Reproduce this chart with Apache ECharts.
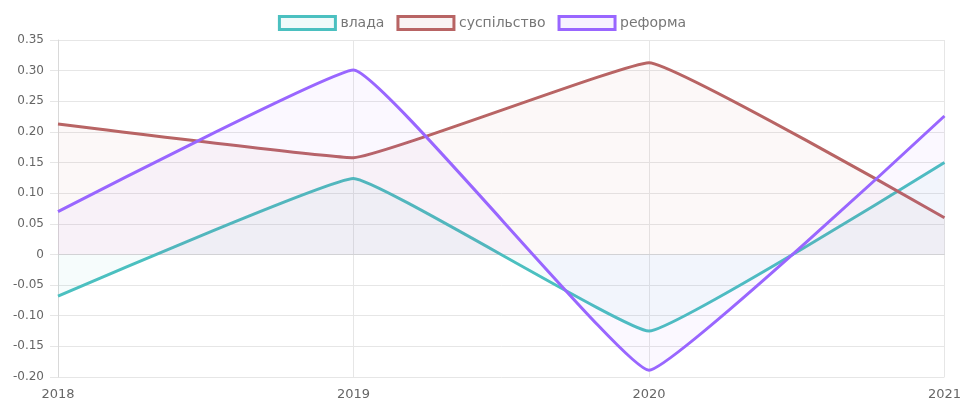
<!DOCTYPE html>
<html>
<head>
<meta charset="utf-8">
<script src="https://cdn.jsdelivr.net/npm/echarts@6/dist/echarts.min.js"></script>
<style>
  html, body { margin: 0; padding: 0; background: #fff; }
  #main { width: 964px; height: 401px; }
</style>
</head>
<body>
<div id="main"></div>
<script>
var years = ['2018', '2019', '2020', '2021'];
var vlada = [-0.068, 0.124, -0.125, 0.150];
var suspilstvo = [0.213, 0.158, 0.313, 0.060];
var reforma = [0.070, 0.301, -0.189, 0.226];

var names = ['влада', 'суспільство', 'реформа'];
var lineColors = ['#4bc0c0', '#b86464', '#9966ff'];
var fillColors = ['rgba(75,192,192,0.07)', 'rgba(184,100,100,0.06)', 'rgba(153,102,255,0.06)'];
var legendFills = ['rgba(75,192,192,0.08)', 'rgba(184,100,100,0.08)', 'rgba(153,102,255,0.08)'];

function makeSeries(name, values, i) {
    return {
        name: name,
        type: 'line',
        data: values,
        smooth: 0.08,
        symbol: 'none',
        lineStyle: { color: lineColors[i], width: 3 },
        itemStyle: { color: lineColors[i] },
        areaStyle: { color: fillColors[i], origin: 0 },
        z: 3 + i
    };
}

var myChart = echarts.init(document.getElementById('main'));
var option = {
    animation: false,
    textStyle: { fontFamily: 'DejaVu Sans' },
    legend: {
        top: 10,
        left: 'center',
        itemWidth: 56,
        itemHeight: 13,
        itemGap: 12,
        textStyle: { color: '#777', fontSize: 14 },
        data: names.map(function (n, i) {
            return {
                name: n,
                icon: 'rect',
                itemStyle: { color: legendFills[i], borderColor: lineColors[i], borderWidth: 3 }
            };
        })
    },
    grid: { left: 58, right: 18, top: 40, bottom: 23 },
    xAxis: {
        type: 'category',
        data: years,
        boundaryGap: false,
        axisLine: { lineStyle: { color: '#d9d9d9' } },
        axisTick: { show: false },
        axisLabel: { color: '#666', fontSize: 13, margin: 11 },
        splitLine: { show: true, lineStyle: { color: '#e6e6e6' } }
    },
    yAxis: {
        type: 'value',
        min: -0.2,
        max: 0.35,
        interval: 0.05,
        axisLine: { show: true, lineStyle: { color: '#d9d9d9' } },
        axisTick: { show: true, length: 8, lineStyle: { color: '#e6e6e6' } },
        axisLabel: {
            color: '#666',
            fontSize: 12,
            margin: 14,
            formatter: function (v) {
                if (Math.abs(v) < 1e-9) return '0';
                return v.toFixed(2);
            }
        },
        splitLine: { lineStyle: { color: '#e6e6e6' } }
    },
    series: [
        makeSeries(names[0], vlada, 0),
        makeSeries(names[1], suspilstvo, 1),
        makeSeries(names[2], reforma, 2)
    ]
};
myChart.setOption(option);
</script>
</body>
</html>
